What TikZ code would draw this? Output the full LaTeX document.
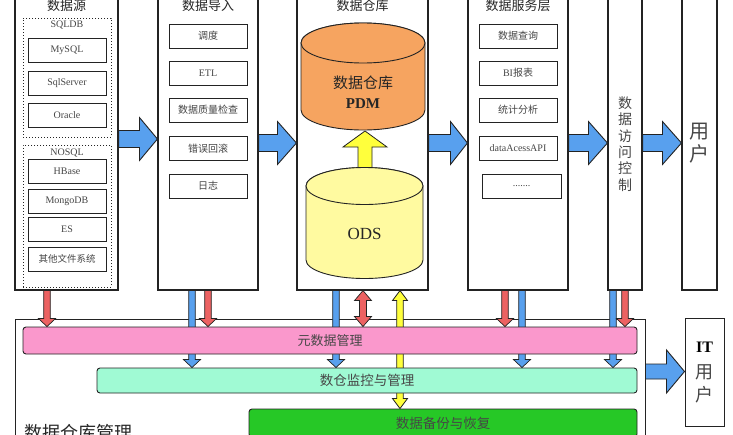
\documentclass[tikz,border=0pt]{standalone}
\usepackage{fontspec}
\setmainfont{Liberation Serif}
\newfontfamily\cjk{Noto Sans CJK SC}
\usetikzlibrary{calc}
\pgfdeclarelayer{back}
\pgfdeclarelayer{mid}
\pgfsetlayers{back,mid,main}
\definecolor{bluea}{RGB}{88,160,238}
\definecolor{reda}{RGB}{236,98,98}
\definecolor{pinkbar}{RGB}{250,152,204}
\definecolor{cyanbar}{RGB}{160,250,212}
\definecolor{greenbar}{RGB}{38,200,38}
\definecolor{pdmorange}{RGB}{246,164,96}
\definecolor{odsyellow}{RGB}{255,250,160}
\definecolor{yarrow}{RGB}{255,255,60}
\definecolor{edge}{RGB}{35,35,35}
\definecolor{txt}{RGB}{70,70,70}
% #1 style, #2 from, #3 to, #4 shaft half width, #5 head half width, #6 head length
\newcommand\blockarrow[6]{%
  \path ($(#3)!#6!(#2)$) coordinate (bac);
  \draw[#1] ($(#2)!#4!90:(#3)$) -- ($(bac)!#4!90:(#3)$) -- ($(bac)!#5!90:(#3)$) -- (#3)
    -- ($(bac)!#5!-90:(#3)$) -- ($(bac)!#4!-90:(#3)$) -- ($(#2)!#4!-90:(#3)$) -- cycle;
}
\newcommand\dblockarrow[6]{%
  \path ($(#3)!#6!(#2)$) coordinate (bac) ($(#2)!#6!(#3)$) coordinate (bad);
  \draw[#1] (#2) -- ($(bad)!#5!90:(#3)$) -- ($(bad)!#4!90:(#3)$) -- ($(bac)!#4!90:(#3)$)
    -- ($(bac)!#5!90:(#3)$) -- (#3) -- ($(bac)!#5!-90:(#3)$) -- ($(bac)!#4!-90:(#3)$)
    -- ($(bad)!#4!-90:(#3)$) -- ($(bad)!#5!-90:(#3)$) -- cycle;
}
\tikzset{
  colbox/.style={draw=edge, line width=1.1pt, fill=white, inner sep=0pt, minimum height=300pt},
  coltitle/.style={font=\cjk\fontsize{13}{13}\selectfont, text=black!85, inner sep=0pt},
  itembox/.style={draw=edge, line width=0.9pt, fill=white, inner sep=0pt, minimum width=78pt,
    minimum height=24pt, font=\fontsize{10}{10}\selectfont, text=txt},
  groupbox/.style={draw=edge, dotted, line width=1pt, inner sep=0pt},
  grouplabel/.style={font=\fontsize{10}{10}\selectfont, text=txt, inner sep=0pt},
  bar/.style={draw=edge, line width=0.9pt, rounded corners=3pt, inner sep=0pt,
    font=\cjk\fontsize{13}{13}\selectfont, text=txt},
  bigarrow/.style={fill=bluea, draw=edge, line width=0.9pt, line join=miter},
  barrow/.style={fill=bluea, draw=edge, line width=0.7pt},
  rarrow/.style={fill=reda, draw=edge, line width=0.7pt},
  yarrowst/.style={fill=yarrow, draw=edge, line width=0.8pt},
  cylst/.style={draw=edge, line width=0.9pt},
}
\begin{document}
\begin{tikzpicture}[x=1pt,y=-1pt]
\useasboundingbox (0,0) rectangle (733,434);
\begin{pgfonlayer}{back}
\fill[white] (0,0) rectangle (733,434);
\end{pgfonlayer}

% ---------- columns ----------
\node[colbox, minimum width=103pt] (src) at (66.5,140) {};
\node[colbox, minimum width=100pt] (imp) at (208,140) {};
\node[colbox, minimum width=131pt] (dw)  at (362.5,140) {};
\node[colbox, minimum width=100pt] (svc) at (518,140) {};
\node[colbox, minimum width=34pt]  (acl) at (625,140) {};
\node[colbox, minimum width=35pt]  (usr) at (699.5,140) {};

\node[coltitle] (t1) at (66.5,5.5) {数据源};
\node[coltitle] (t2) at (208,5.5) {数据导入};
\node[coltitle] (t3) at (362.5,5.5) {数据仓库};
\node[coltitle] (t4) at (518,5.5) {数据服务层};

% ---------- data sources ----------
\node[groupbox, minimum width=88pt, minimum height=119pt] (sqlg) at (67,77.5) {};
\node[grouplabel] (sqll) at (67,25) {SQLDB};
\node[itembox] (mysql) at (67,50) {MySQL};
\node[itembox] (sqls) at (67,83) {SqlServer};
\node[itembox] (ora) at (67,115) {Oracle};
\node[groupbox, minimum width=88pt, minimum height=142pt] (nosg) at (67,216) {};
\node[grouplabel] (nosl) at (67,153) {NOSQL};
\node[itembox] (hb) at (67,171.5) {HBase};
\node[itembox] (mongo) at (67,201.5) {MongoDB};
\node[itembox] (es) at (67,229) {ES};
\node[itembox, font=\cjk\fontsize{9.5}{10}\selectfont] (fs) at (67,259) {其他文件系统};

% ---------- import ----------
\node[itembox, font=\cjk\fontsize{10}{10}\selectfont] (sch) at (208,36) {调度};
\node[itembox] (etl) at (208,73) {ETL};
\node[itembox, font=\cjk\fontsize{10}{10}\selectfont] (dq) at (208,110) {数据质量检查};
\node[itembox, font=\cjk\fontsize{10}{10}\selectfont] (rb) at (208,148.5) {错误回滚};
\node[itembox, font=\cjk\fontsize{10}{10}\selectfont] (log) at (208,186) {日志};

% ---------- warehouse cylinders ----------
\draw[cylst, fill=pdmorange] (301,43) -- (301,110)
  arc[start angle=180, end angle=0, x radius=62, y radius=20] -- (425,43)
  arc[start angle=0, end angle=-180, x radius=62, y radius=20] -- cycle;
\draw[cylst, fill=pdmorange] (363,43) ellipse[x radius=62, y radius=20];
\node[align=center, font=\fontsize{15}{20}\selectfont, text=black!85, inner sep=0pt] (pdm) at (363,92)
  {{\cjk 数据仓库}\\\textbf{PDM}};
\draw[cylst, fill=odsyellow] (306,186) -- (306,260)
  arc[start angle=180, end angle=0, x radius=58.5, y radius=18.5] -- (423,186)
  arc[start angle=0, end angle=-180, x radius=58.5, y radius=18.5] -- cycle;
\draw[cylst, fill=odsyellow] (364.5,186) ellipse[x radius=58.5, y radius=18.5];
\node[font=\fontsize{17}{17}\selectfont, text=black!85, inner sep=0pt] (ods) at (364.5,234) {ODS};
\coordinate (odstop) at (365,167.5);
\coordinate (pdmbot) at (365,131);
\blockarrow{yarrowst}{odstop}{pdmbot}{7pt}{22pt}{16pt}

% ---------- services ----------
\node[itembox, font=\cjk\fontsize{10}{10}\selectfont] (qry) at (518,36) {数据查询};
\node[itembox] (bi) at (518,73) {BI{\cjk 报表}};
\node[itembox, font=\cjk\fontsize{10}{10}\selectfont] (stat) at (518,110) {统计分析};
\node[itembox] (api) at (518,148.5) {dataAcessAPI};
\node[itembox, minimum width=79pt] (more) at (521.5,186) {.......};

% ---------- access control & users ----------
\node[align=center, font=\cjk\fontsize{14}{16.4}\selectfont, text=txt, inner sep=0pt] (aclt) at (625,144)
  {数\\据\\访\\问\\控\\制};
\node[align=center, font=\cjk\fontsize{20}{23}\selectfont, text=txt, inner sep=0pt] (usrt) at (699.5,143.5)
  {用\\户};

% ---------- main arrows ----------
\coordinate (a1s) at (src.east |- 0,139);  \coordinate (a1e) at (imp.west |- 0,139);
\coordinate (a2s) at (imp.east |- 0,143);  \coordinate (a2e) at (dw.west |- 0,143);
\coordinate (a3s) at (dw.east |- 0,143);   \coordinate (a3e) at (svc.west |- 0,143);
\coordinate (a4s) at (svc.east |- 0,143);  \coordinate (a4e) at (acl.west |- 0,143);
\coordinate (a5s) at (acl.east |- 0,143);  \coordinate (a5e) at (usr.west |- 0,143);
\blockarrow{bigarrow}{a1s}{a1e}{8.5pt}{21.5pt}{18pt}
\blockarrow{bigarrow}{a2s}{a2e}{8.5pt}{21.5pt}{19pt}
\blockarrow{bigarrow}{a3s}{a3e}{8.5pt}{21.5pt}{17pt}
\blockarrow{bigarrow}{a4s}{a4e}{8.5pt}{21.5pt}{19pt}
\blockarrow{bigarrow}{a5s}{a5e}{8.5pt}{21.5pt}{19pt}

% ---------- management area ----------
\begin{pgfonlayer}{back}
\node[draw=edge, line width=1pt, fill=white, inner sep=0pt, minimum width=630pt, minimum height=131pt] (mgmt) at (330,384.5) {};
\end{pgfonlayer}
\node[font=\cjk\fontsize{18}{18}\selectfont, text=black!85, anchor=west, inner sep=0pt] (mgmtt) at (24,433) {数据仓库管理};
\node[bar, fill=pinkbar, minimum width=614pt, minimum height=27pt] (meta) at (330,340.5) {元数据管理};
\node[bar, fill=cyanbar, minimum width=540pt, minimum height=25pt, font=\cjk\fontsize{13.5}{13.5}\selectfont] (mon) at (367,380.5) {数仓监控与管理};
\node[bar, fill=greenbar, minimum width=388pt, minimum height=28pt, font=\cjk\fontsize{13.5}{13.5}\selectfont] (bak) at (443,423) {数据备份与恢复};

\node[draw=edge, line width=1pt, fill=white, inner sep=0pt, minimum width=39pt, minimum height=108pt] (itu) at (704.5,372) {};
\node[font=\fontsize{16}{16}\selectfont\bfseries, inner sep=0pt] (itt) at (704.5,347) {IT};
\node[align=center, font=\cjk\fontsize{18}{23}\selectfont, text=txt, inner sep=0pt] (itut) at (704.5,383.5) {用\\户};
\coordinate (a6s) at (mgmt.east |- 0,371.5); \coordinate (a6e) at (itu.west |- 0,371.5);
\blockarrow{bigarrow}{a6s}{a6e}{7.5pt}{21.5pt}{18pt}

% ---------- small vertical arrows (drawn beneath the bars) ----------
\coordinate (r1s) at (47,0 |- src.south);  \coordinate (r1e) at (47,0 |- meta.north);
\coordinate (b1s) at (192,0 |- imp.south); \coordinate (b1e) at (192,0 |- mon.north);
\coordinate (r2s) at (208,0 |- imp.south); \coordinate (r2e) at (208,0 |- meta.north);
\coordinate (b2s) at (336,0 |- dw.south);  \coordinate (b2e) at (336,0 |- mon.north);
\coordinate (r3s) at (363,0 |- dw.south);  \coordinate (r3e) at (363,0 |- meta.north);
\coordinate (y1s) at (400,0 |- dw.south);  \coordinate (y1e) at (400,0 |- bak.north);
\coordinate (r4s) at (505,0 |- svc.south); \coordinate (r4e) at (505,0 |- meta.north);
\coordinate (b3s) at (522,0 |- svc.south); \coordinate (b3e) at (522,0 |- mon.north);
\coordinate (b4s) at (613,0 |- acl.south); \coordinate (b4e) at (613,0 |- mon.north);
\coordinate (r5s) at (625,0 |- acl.south); \coordinate (r5e) at (625,0 |- meta.north);
\begin{pgfonlayer}{mid}
\blockarrow{rarrow}{r1s}{r1e}{3.3pt}{8.5pt}{8pt}
\blockarrow{barrow}{b1s}{b1e}{3.3pt}{8.5pt}{8pt}
\blockarrow{rarrow}{r2s}{r2e}{3.3pt}{8.5pt}{8pt}
\blockarrow{barrow}{b2s}{b2e}{3.3pt}{8.5pt}{8pt}
\dblockarrow{rarrow}{r3s}{r3e}{3.5pt}{8.5pt}{10pt}
\dblockarrow{yarrowst}{y1s}{y1e}{3.3pt}{7.5pt}{10pt}
\blockarrow{rarrow}{r4s}{r4e}{3.3pt}{8.5pt}{8pt}
\blockarrow{barrow}{b3s}{b3e}{3.3pt}{8.5pt}{8pt}
\blockarrow{barrow}{b4s}{b4e}{3.3pt}{8.5pt}{8pt}
\blockarrow{rarrow}{r5s}{r5e}{3.3pt}{8.5pt}{8pt}
\end{pgfonlayer}
\end{tikzpicture}
\end{document}
